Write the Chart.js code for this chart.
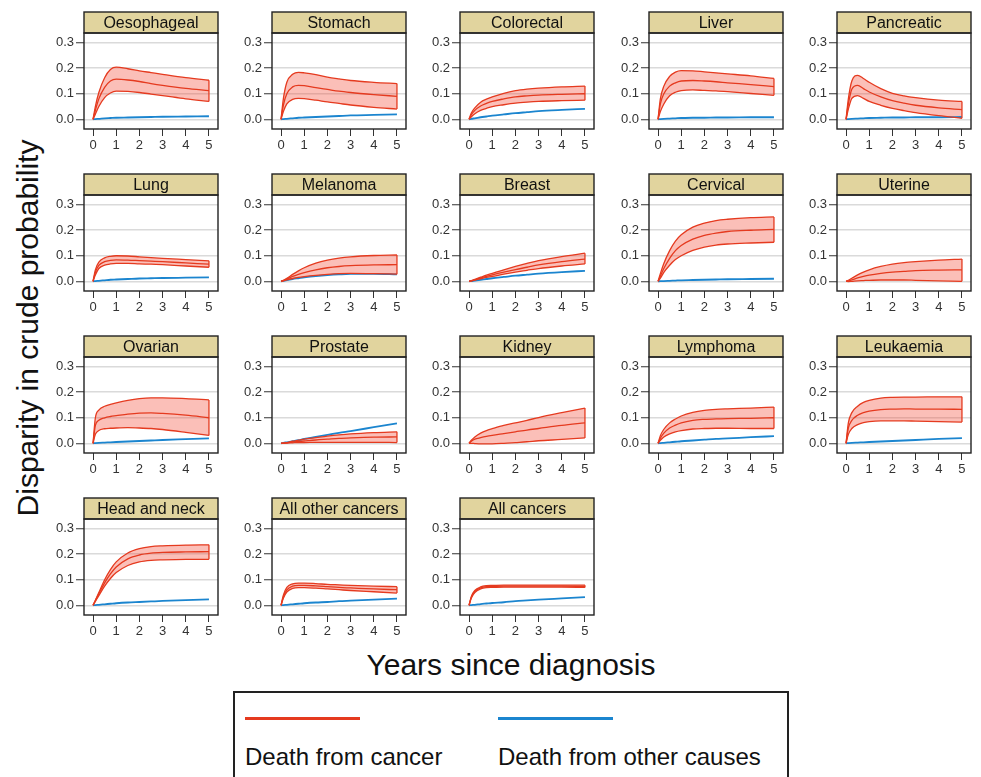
<!DOCTYPE html>
<html>
<head>
<meta charset="utf-8">
<script src="https://cdn.jsdelivr.net/npm/chart.js@4.4.1/dist/chart.umd.min.js"></script>
<style>
  body { margin: 0; background: #fff; width: 981px; height: 777px; overflow: hidden; position: relative;
         font-family: "Liberation Sans", Arial, sans-serif; color: #111; }
  canvas.panel { position: absolute; }
  .title { position: absolute; font-size: 30px; line-height: 30px; white-space: nowrap; }
  #ytitle { left: -172px; top: 311px; width: 400px; height: 34px; line-height: 34px; text-align: center;
            transform: rotate(-90deg); }
  #xtitle { left: 311px; top: 650px; width: 400px; text-align: center; }
  #legend { position: absolute; left: 233px; top: 691px; width: 556px; height: 120px;
            border: 2px solid #222; box-sizing: border-box; }
  .key { position: absolute; height: 3px; width: 115px; }
  .keytext { position: absolute; font-size: 24px; line-height: 24px; white-space: nowrap; }
</style>
</head>
<body>
<div id="ytitle" class="title">Disparity in crude probability</div>
<div id="xtitle" class="title">Years since diagnosis</div>
<div id="legend"></div>
<div class="key" style="left:245px; top:717px; background:#e53a1f"></div>
<div class="key" style="left:498px; top:717px; background:#1b85cf"></div>
<div class="keytext" style="left:245px; top:745px">Death from cancer</div>
<div class="keytext" style="left:498px; top:745px">Death from other causes</div>
<script>
const years = [0, 0.1, 0.25, 0.5, 0.75, 1, 1.5, 2, 2.5, 3, 4, 5];
const xTicks = [0, 1, 2, 3, 4, 5];
const yTicks = [0, 0.1, 0.2, 0.3];

const cancers = ['Oesophageal', 'Stomach', 'Colorectal', 'Liver', 'Pancreatic',
  'Lung', 'Melanoma', 'Breast', 'Cervical', 'Uterine',
  'Ovarian', 'Prostate', 'Kidney', 'Lymphoma', 'Leukaemia',
  'Head and neck', 'All other cancers', 'All cancers'];

// death from cancer: upper limit, estimate, lower limit
const cancerUpper = [
  [0, 0.05, 0.105, 0.163, 0.195, 0.204, 0.198, 0.19, 0.183, 0.176, 0.163, 0.153],
  [0, 0.08, 0.145, 0.176, 0.184, 0.182, 0.175, 0.165, 0.158, 0.152, 0.145, 0.14],
  [0, 0.025, 0.045, 0.067, 0.079, 0.088, 0.102, 0.112, 0.118, 0.122, 0.127, 0.13],
  [0, 0.08, 0.13, 0.168, 0.185, 0.191, 0.19, 0.186, 0.182, 0.178, 0.17, 0.16],
  [0, 0.08, 0.15, 0.172, 0.16, 0.145, 0.12, 0.102, 0.092, 0.085, 0.075, 0.07],
  [0, 0.045, 0.075, 0.092, 0.098, 0.1, 0.099, 0.096, 0.093, 0.09, 0.085, 0.08],
  [0, 0.004, 0.012, 0.027, 0.041, 0.053, 0.071, 0.083, 0.091, 0.096, 0.101, 0.103],
  [0, 0.003, 0.008, 0.016, 0.024, 0.031, 0.045, 0.058, 0.07, 0.081, 0.097, 0.11],
  [0, 0.03, 0.07, 0.12, 0.157, 0.182, 0.212, 0.228, 0.238, 0.243, 0.249, 0.252],
  [0, 0.004, 0.012, 0.025, 0.036, 0.045, 0.058, 0.067, 0.073, 0.077, 0.083, 0.087],
  [0, 0.1, 0.13, 0.145, 0.152, 0.158, 0.168, 0.175, 0.178, 0.178, 0.175, 0.17],
  [0, 0.001, 0.003, 0.008, 0.012, 0.016, 0.022, 0.028, 0.033, 0.037, 0.042, 0.045],
  [0, 0.012, 0.025, 0.04, 0.05, 0.057, 0.07, 0.08, 0.09, 0.101, 0.12, 0.138],
  [0, 0.03, 0.055, 0.08, 0.095, 0.107, 0.121, 0.129, 0.133, 0.135, 0.138, 0.142],
  [0, 0.08, 0.12, 0.145, 0.16, 0.168, 0.177, 0.18, 0.181, 0.181, 0.182, 0.182],
  [0, 0.02, 0.05, 0.1, 0.14, 0.17, 0.205, 0.222, 0.23, 0.233, 0.236, 0.237],
  [0, 0.04, 0.07, 0.084, 0.087, 0.087, 0.085, 0.082, 0.08, 0.078, 0.075, 0.073],
  [0, 0.035, 0.058, 0.072, 0.077, 0.078, 0.079, 0.079, 0.079, 0.079, 0.079, 0.079]
];
const cancerMid = [
  [0, 0.035, 0.08, 0.125, 0.15, 0.157, 0.154, 0.148, 0.14, 0.133, 0.121, 0.112],
  [0, 0.055, 0.1, 0.127, 0.133, 0.132, 0.124, 0.117, 0.11, 0.105, 0.097, 0.09],
  [0, 0.018, 0.035, 0.052, 0.062, 0.07, 0.08, 0.088, 0.092, 0.095, 0.098, 0.1],
  [0, 0.06, 0.1, 0.13, 0.143, 0.15, 0.152, 0.15, 0.147, 0.143, 0.136, 0.128],
  [0, 0.06, 0.118, 0.133, 0.12, 0.107, 0.088, 0.073, 0.063, 0.055, 0.045, 0.038],
  [0, 0.035, 0.062, 0.077, 0.082, 0.084, 0.083, 0.081, 0.079, 0.077, 0.072, 0.067],
  [0, 0.003, 0.009, 0.019, 0.027, 0.034, 0.045, 0.053, 0.058, 0.061, 0.064, 0.065],
  [0, 0.002, 0.006, 0.013, 0.019, 0.025, 0.036, 0.046, 0.055, 0.064, 0.077, 0.087],
  [0, 0.02, 0.05, 0.09, 0.12, 0.14, 0.165, 0.18, 0.189, 0.195, 0.2, 0.203],
  [0, 0.002, 0.006, 0.013, 0.019, 0.024, 0.031, 0.036, 0.039, 0.042, 0.044, 0.045],
  [0, 0.07, 0.09, 0.1, 0.105, 0.108, 0.114, 0.118, 0.119, 0.117, 0.11, 0.1],
  [0, 0.001, 0.002, 0.005, 0.007, 0.009, 0.013, 0.016, 0.019, 0.021, 0.024, 0.025],
  [0, 0.008, 0.016, 0.022, 0.027, 0.031, 0.038, 0.045, 0.052, 0.058, 0.07, 0.08],
  [0, 0.02, 0.04, 0.06, 0.071, 0.08, 0.09, 0.094, 0.096, 0.097, 0.098, 0.1],
  [0, 0.06, 0.09, 0.11, 0.12, 0.126, 0.132, 0.134, 0.135, 0.134, 0.134, 0.133],
  [0, 0.018, 0.045, 0.088, 0.123, 0.15, 0.182, 0.197, 0.204, 0.207, 0.209, 0.21],
  [0, 0.033, 0.06, 0.075, 0.078, 0.078, 0.076, 0.073, 0.07, 0.068, 0.064, 0.061],
  [0, 0.032, 0.054, 0.068, 0.073, 0.074, 0.075, 0.075, 0.075, 0.075, 0.075, 0.074]
];
const cancerLower = [
  [0, 0.02, 0.05, 0.085, 0.103, 0.11, 0.109, 0.105, 0.099, 0.093, 0.08, 0.07],
  [0, 0.03, 0.06, 0.078, 0.082, 0.081, 0.075, 0.068, 0.062, 0.056, 0.047, 0.04],
  [0, 0.01, 0.022, 0.035, 0.043, 0.05, 0.057, 0.063, 0.067, 0.07, 0.073, 0.075],
  [0, 0.03, 0.06, 0.092, 0.106, 0.112, 0.115, 0.113, 0.111, 0.108, 0.101, 0.094],
  [0, 0.04, 0.082, 0.093, 0.082, 0.07, 0.055, 0.043, 0.034, 0.026, 0.014, 0.004],
  [0, 0.025, 0.05, 0.063, 0.068, 0.07, 0.07, 0.068, 0.067, 0.065, 0.06, 0.055],
  [0, 0.002, 0.006, 0.011, 0.015, 0.018, 0.023, 0.027, 0.03, 0.031, 0.03, 0.028],
  [0, 0.002, 0.005, 0.01, 0.015, 0.019, 0.028, 0.036, 0.043, 0.05, 0.06, 0.068],
  [0, 0.012, 0.035, 0.063, 0.085, 0.1, 0.121, 0.134, 0.142, 0.146, 0.15, 0.153],
  [0, -0.001, 0, 0.002, 0.003, 0.004, 0.005, 0.005, 0.005, 0.004, 0.002, 0],
  [0, 0.035, 0.05, 0.057, 0.059, 0.06, 0.061, 0.06, 0.058, 0.054, 0.043, 0.031],
  [0, 0, 0.001, 0.002, 0.003, 0.003, 0.004, 0.004, 0.004, 0.004, 0.004, 0.003],
  [0, 0, -0.001, -0.002, -0.002, -0.002, 0, 0.003, 0.006, 0.01, 0.015, 0.021],
  [0, 0.012, 0.025, 0.037, 0.045, 0.05, 0.056, 0.058, 0.059, 0.059, 0.058, 0.058],
  [0, 0.035, 0.058, 0.073, 0.081, 0.085, 0.088, 0.088, 0.088, 0.087, 0.085, 0.083],
  [0, 0.015, 0.038, 0.075, 0.105, 0.128, 0.156, 0.17, 0.176, 0.178, 0.18, 0.18],
  [0, 0.028, 0.052, 0.066, 0.069, 0.069, 0.067, 0.064, 0.061, 0.058, 0.053, 0.048],
  [0, 0.029, 0.05, 0.064, 0.069, 0.07, 0.071, 0.071, 0.071, 0.071, 0.071, 0.07]
];
// death from other causes (not shown for uterine and kidney)
const otherCauses = [
  [0, 0.001, 0.002, 0.004, 0.005, 0.006, 0.007, 0.008, 0.009, 0.01, 0.011, 0.012],
  [0, 0.001, 0.002, 0.004, 0.006, 0.007, 0.009, 0.011, 0.013, 0.015, 0.017, 0.019],
  [0, 0.002, 0.004, 0.008, 0.011, 0.014, 0.019, 0.024, 0.028, 0.032, 0.037, 0.041],
  [0, 0.001, 0.002, 0.003, 0.004, 0.005, 0.006, 0.006, 0.007, 0.007, 0.008, 0.008],
  [0, 0.001, 0.002, 0.003, 0.004, 0.005, 0.006, 0.007, 0.007, 0.008, 0.008, 0.009],
  [0, 0.001, 0.002, 0.004, 0.006, 0.007, 0.009, 0.011, 0.012, 0.013, 0.014, 0.015],
  [0, 0.002, 0.005, 0.009, 0.012, 0.015, 0.02, 0.024, 0.027, 0.029, 0.029, 0.027],
  [0, 0.001, 0.003, 0.006, 0.009, 0.012, 0.017, 0.022, 0.026, 0.03, 0.036, 0.041],
  [0, 0.0005, 0.001, 0.002, 0.003, 0.004, 0.005, 0.006, 0.007, 0.008, 0.009, 0.01],
  [],
  [0, 0.001, 0.002, 0.003, 0.004, 0.005, 0.007, 0.009, 0.011, 0.013, 0.016, 0.019],
  [0, 0.002, 0.004, 0.008, 0.012, 0.017, 0.025, 0.033, 0.041, 0.048, 0.063, 0.078],
  [],
  [0, 0.001, 0.002, 0.004, 0.006, 0.008, 0.011, 0.014, 0.017, 0.019, 0.024, 0.028],
  [0, 0.001, 0.002, 0.003, 0.004, 0.005, 0.007, 0.009, 0.011, 0.013, 0.017, 0.02],
  [0, 0.001, 0.002, 0.004, 0.006, 0.008, 0.011, 0.013, 0.015, 0.017, 0.02, 0.023],
  [0, 0.001, 0.002, 0.004, 0.006, 0.008, 0.011, 0.013, 0.016, 0.018, 0.022, 0.026],
  [0, 0.001, 0.002, 0.005, 0.007, 0.009, 0.012, 0.016, 0.019, 0.022, 0.027, 0.032]
];

const RED = '#e53a1f';
const BLUE = '#1b85cf';
const BAND = 'rgba(243, 78, 58, 0.36)';
const STRIP = '#e1d49e';
const FONT = '"Liberation Sans", Arial, sans-serif';

const boxLeft = [84, 272, 460, 649, 837];
const boxTop = [33, 195, 357, 519];
const AXIS_W = 48, STRIP_H = 21;

// strip with panel name + box around plot area
const panelFrame = {
  id: 'panelFrame',
  afterDraw(chart, args, opts) {
    const { ctx, chartArea: a } = chart;
    ctx.save();
    ctx.fillStyle = STRIP;
    ctx.fillRect(a.left, a.top - STRIP_H, a.right - a.left, STRIP_H);
    ctx.strokeStyle = '#222';
    ctx.lineWidth = 1.4;
    ctx.strokeRect(a.left, a.top - STRIP_H, a.right - a.left, STRIP_H);
    ctx.strokeRect(a.left, a.top, a.right - a.left, a.bottom - a.top);
    ctx.fillStyle = '#111';
    ctx.font = '16px ' + FONT;
    ctx.textAlign = 'center';
    ctx.textBaseline = 'middle';
    ctx.fillText(opts.title, (a.left + a.right) / 2, a.top - STRIP_H / 2 + 1);
    ctx.restore();
  }
};

function pts(vals) {
  return vals.map((v, i) => ({ x: years[i], y: v }));
}

function line(data, color, width, extra) {
  return Object.assign({
    data, borderColor: color, borderWidth: width, pointRadius: 0,
    fill: false, cubicInterpolationMode: 'monotone'
  }, extra || {});
}

cancers.forEach((name, i) => {
  const col = i % 5, row = Math.floor(i / 5);
  const cv = document.createElement('canvas');
  cv.className = 'panel';
  cv.width = 190;
  cv.height = 150;
  cv.style.left = (boxLeft[col] - AXIS_W) + 'px';
  cv.style.top = (boxTop[row] - 22) + 'px';
  document.body.appendChild(cv);

  const up = cancerUpper[i], lo = cancerLower[i];
  const last = years.length - 1;
  const datasets = [
    line(pts(up), RED, 1.3, { fill: '+1', backgroundColor: BAND }),
    line(pts(lo), RED, 1.3),
    line(pts(cancerMid[i]), RED, 1.3),
    line([{ x: years[last], y: lo[last] }, { x: years[last], y: up[last] }], RED, 1.3)
  ];
  if (otherCauses[i].length) {
    datasets.push(line(pts(otherCauses[i]), BLUE, 1.8, { order: 1 }));
  }

  new Chart(cv, {
    type: 'line',
    data: { datasets },
    plugins: [panelFrame],
    options: {
      responsive: false,
      animation: false,
      events: [],
      layout: { padding: { top: 22, right: 8, bottom: 2, left: 0 } },
      plugins: {
        legend: { display: false },
        tooltip: { enabled: false },
        filler: { drawTime: 'beforeDatasetsDraw' },
        panelFrame: { title: name }
      },
      scales: {
        x: {
          type: 'linear', min: -0.39, max: 5.39,
          afterBuildTicks: s => { s.ticks = xTicks.map(v => ({ value: v })); },
          afterFit: s => { s.height = 30; },
          border: { display: false },
          grid: { drawOnChartArea: false, tickLength: 7, tickColor: '#333', tickWidth: 1 },
          ticks: { autoSkip: false, maxRotation: 0, padding: 2, color: '#333',
                   font: { family: FONT, size: 13 }, callback: v => String(v) }
        },
        y: {
          min: -0.038, max: 0.338,
          afterBuildTicks: s => { s.ticks = yTicks.map(v => ({ value: v })); },
          afterFit: s => { s.width = AXIS_W; },
          border: { display: false },
          grid: { color: '#dadada', lineWidth: 1.5, tickLength: 8, tickColor: '#333', tickWidth: 1 },
          ticks: { autoSkip: false, padding: 2, color: '#333',
                   font: { family: FONT, size: 13 }, callback: v => v.toFixed(1) }
        }
      }
    }
  });
});
</script>
</body>
</html>
